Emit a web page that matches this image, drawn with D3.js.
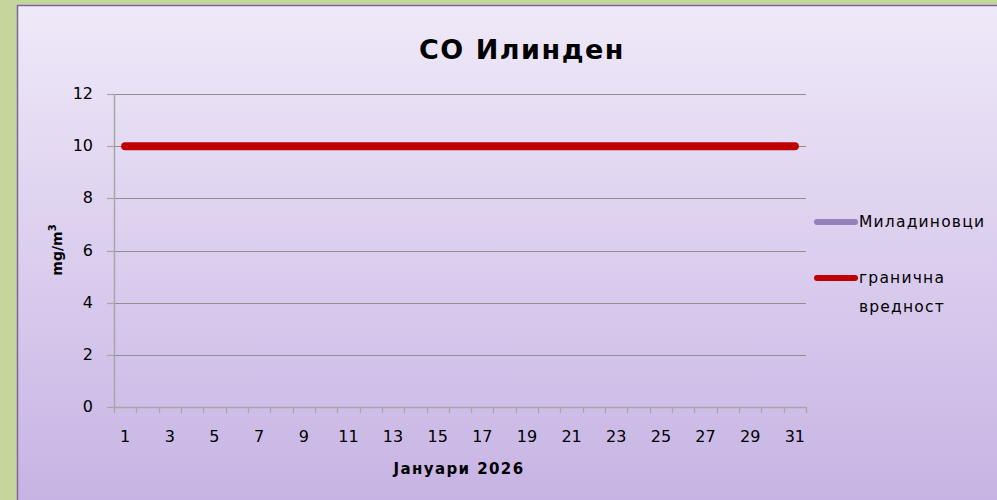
<!DOCTYPE html>
<html>
<head>
<meta charset="utf-8">
<script src="https://cdn.jsdelivr.net/npm/d3@7"></script>
<style>
  html, body { margin: 0; padding: 0; background: #c3d69b; }
  svg { display: block; }
  text { font-family: "DejaVu Sans", sans-serif; fill: #000; }
</style>
</head>
<body>
<svg id="chart" width="997" height="500"></svg>
<script>
// ===== DATA =====
const days = d3.range(1, 32);                       // Јануари 1..31
const miladinovci = days.map(() => null);           // no measurements shown
const limitValue = days.map(() => 10);              // гранична вредност
const yTicks = [0, 2, 4, 6, 8, 10, 12];
const xLabels = days.filter(d => d % 2 === 1);
const seriesNames = ["Миладиновци", "гранична вредност"];

const svg = d3.select("#chart");

// gradient background of the chart panel
const defs = svg.append("defs");
const grad = defs.append("linearGradient")
  .attr("id", "bg").attr("x1", 0).attr("y1", 0).attr("x2", 0).attr("y2", 1);
grad.append("stop").attr("offset", "0%").attr("stop-color", "#efe9f8");
grad.append("stop").attr("offset", "100%").attr("stop-color", "#c7b3e4");

svg.append("rect")
  .attr("x", 17.5).attr("y", 5.5)
  .attr("width", 985).attr("height", 500)
  .attr("fill", "url(#bg)")
  .attr("stroke", "#8064a2")
  .attr("stroke-width", 1.5);

// ===== SCALES =====
const x = d3.scaleBand().domain(days).range([114, 806]);
const y = d3.scaleLinear().domain([0, 12]).range([407, 94]);

// gridlines
svg.append("g").selectAll("line")
  .data(yTicks.filter(t => t > 0))
  .enter().append("line")
  .attr("x1", 114).attr("x2", 806)
  .attr("y1", d => Math.round(y(d)) + 0.5)
  .attr("y2", d => Math.round(y(d)) + 0.5)
  .attr("stroke", "#8f8f8f").attr("stroke-width", 1);

// y axis
const yAxis = svg.append("g");
yAxis.append("line")
  .attr("x1", 114.5).attr("x2", 114.5)
  .attr("y1", y(12)).attr("y2", y(0))
  .attr("stroke", "#a6a6a6").attr("stroke-width", 1.5);
yAxis.selectAll(".ytick")
  .data(yTicks).enter().append("line")
  .attr("x1", 107).attr("x2", 114)
  .attr("y1", d => Math.round(y(d)) + 0.5)
  .attr("y2", d => Math.round(y(d)) + 0.5)
  .attr("stroke", "#a6a6a6").attr("stroke-width", 1.2);
yAxis.selectAll(".ylab")
  .data(yTicks).enter().append("text")
  .attr("x", 93).attr("y", d => y(d) + 5)
  .attr("text-anchor", "end")
  .style("font-size", "16px")
  .text(d => d);

// x axis
const xAxis = svg.append("g");
xAxis.append("line")
  .attr("x1", 114).attr("x2", 806)
  .attr("y1", y(0) + 0.5).attr("y2", y(0) + 0.5)
  .attr("stroke", "#a6a6a6").attr("stroke-width", 1.5);
const bounds = days.map(d => x(d)).concat([x(days[days.length - 1]) + x.bandwidth()]);
xAxis.selectAll(".xtick")
  .data(bounds).enter().append("line")
  .attr("x1", d => Math.round(d) + 0.5).attr("x2", d => Math.round(d) + 0.5)
  .attr("y1", y(0)).attr("y2", y(0) + 6)
  .attr("stroke", "#a6a6a6").attr("stroke-width", 1.2);
xAxis.selectAll(".xlab")
  .data(xLabels).enter().append("text")
  .attr("x", d => x(d) + x.bandwidth() / 2)
  .attr("y", 442)
  .attr("text-anchor", "middle")
  .style("font-size", "16px")
  .text(d => d);

// ===== SERIES =====
const line = d3.line()
  .defined(d => d.v != null)
  .x(d => x(d.day) + x.bandwidth() / 2)
  .y(d => y(d.v));

svg.append("path")
  .datum(days.map((d, i) => ({ day: d, v: miladinovci[i] })))
  .attr("d", line)
  .attr("fill", "none")
  .attr("stroke", "#9580b8").attr("stroke-width", 7)
  .attr("stroke-linecap", "round");

svg.append("path")
  .datum(days.map((d, i) => ({ day: d, v: limitValue[i] })))
  .attr("d", line)
  .attr("fill", "none")
  .attr("stroke", "#c00000").attr("stroke-width", 8)
  .attr("stroke-linecap", "round");

// ===== TITLES =====
svg.append("text")
  .attr("x", 522).attr("y", 59)
  .attr("text-anchor", "middle")
  .style("font-size", "27px").style("font-weight", "bold")
  .style("letter-spacing", "1.5px")
  .text("CO Илинден");

svg.append("text")
  .attr("x", 459).attr("y", 474)
  .attr("text-anchor", "middle")
  .style("font-size", "15px").style("font-weight", "bold")
  .style("letter-spacing", "1.4px")
  .text("Јануари 2026");

const yTitle = svg.append("text")
  .attr("transform", "translate(62,250) rotate(-90)")
  .attr("text-anchor", "middle")
  .style("font-size", "14px").style("font-weight", "bold");
yTitle.append("tspan").text("mg/m");
yTitle.append("tspan").attr("dy", -6).style("font-size", "10px").text("3");

// ===== LEGEND =====
const legendColors = ["#9580b8", "#c00000"];
const legendY = [222, 278];
const legend = svg.append("g");
seriesNames.forEach((name, i) => {
  legend.append("line")
    .attr("x1", 817).attr("x2", 855)
    .attr("y1", legendY[i]).attr("y2", legendY[i])
    .attr("stroke", legendColors[i]).attr("stroke-width", 6)
    .attr("stroke-linecap", "round");
  const t = legend.append("text")
    .attr("x", 859).attr("y", legendY[i] + 5)
    .style("font-size", "15.5px")
    .style("letter-spacing", "1.2px");
  const words = name.split(" ");
  words.forEach((w, j) => {
    t.append("tspan").attr("x", 859).attr("dy", j === 0 ? 0 : 29).text(w);
  });
});
</script>
</body>
</html>
